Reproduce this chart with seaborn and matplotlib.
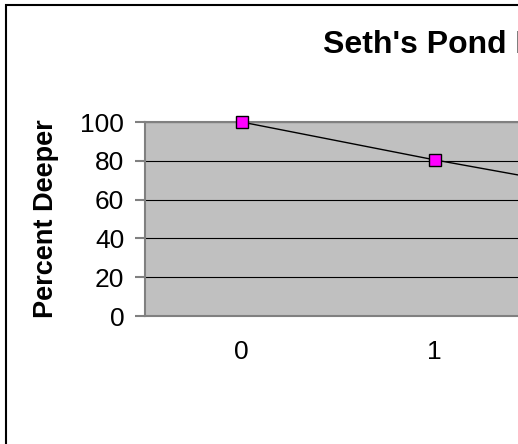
import matplotlib
matplotlib.use("Agg")
import matplotlib.pyplot as plt
from matplotlib.patches import Rectangle
import seaborn as sns
import pandas as pd

# data (only the first part of the curve is visible)
depth = [0, 1, 2]
percent_deeper = [100, 80.5, 62.5]
y_ticks = [0, 20, 40, 60, 80, 100]
x_labels = ["0", "1"]  # categories whose labels fall inside the crop

df = pd.DataFrame({"depth": depth, "percent": percent_deeper})

sns.set_style("white")
plt.rcParams["font.family"] = ["Liberation Sans", "DejaVu Sans"]
plt.rcParams["text.color"] = "black"
plt.rcParams["axes.labelcolor"] = "black"
plt.rcParams["xtick.labelcolor"] = "black"
plt.rcParams["ytick.labelcolor"] = "black"

W, H = 518, 444
fig = plt.figure(figsize=(W / 100, H / 100), dpi=100)
fig.patch.set_facecolor("white")

# plot area runs past the right edge of the picture, like the cropped original
ax = fig.add_axes([145 / W, 1 - 316 / H, 579 / W, 194 / H])
ax.set_facecolor("#C0C0C0")

sns.lineplot(data=df, x="depth", y="percent", ax=ax, color="black", linewidth=1,
             marker="s", markersize=9, markerfacecolor="#FF00FF",
             markeredgecolor="black", markeredgewidth=1, clip_on=False, zorder=5)

ax.set_xlim(-0.5, 2.5)
ax.set_ylim(0, 100)
ax.set_yticks(y_ticks)
ax.set_xticks(depth[:len(x_labels)])
ax.set_xticklabels(x_labels)
ax.set_xticks([-0.5, 0.5, 1.5, 2.5], minor=True)

ax.yaxis.grid(True, color="black", linewidth=0.8)
ax.set_axisbelow(True)

for s in ax.spines.values():
    s.set_color("#808080")
    s.set_linewidth(1.5)

ax.tick_params(axis="x", which="major", length=0, pad=17, labelsize=19)
ax.tick_params(axis="x", which="minor", length=6.5, width=1.5, color="#808080")
ax.tick_params(axis="y", length=7, width=1.5, color="#808080", pad=8, labelsize=19, left=True)

ax.set_xlabel("")
ax.set_ylabel("Percent Deeper", fontsize=19.5, fontweight="bold")
ax.yaxis.set_label_coords(-0.1485, 0.5)

# title is cut by the right edge in the original as well
fig.text(323 / W, 1 - 53 / H, "Seth's Pond Hypsographic Curve", ha="left",
         va="baseline", fontsize=23, fontweight="bold", color="black")

# chart area border (only left and top edges fall inside the crop)
fig.patches.append(Rectangle((6 / W, -0.5), 3, 1.5 - 5 / H, transform=fig.transFigure,
                             fill=False, edgecolor="black", linewidth=1.5))

fig.savefig("out.png", dpi=100)
